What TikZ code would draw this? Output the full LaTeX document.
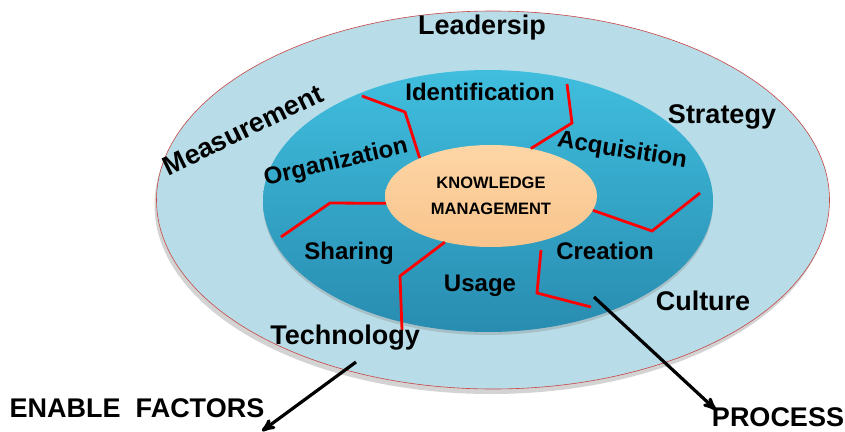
\documentclass[tikz,border=0pt]{standalone}
\usepackage{fontspec}
\setmainfont{Liberation Sans}
\usepackage{tikz}
\usetikzlibrary{shapes}
\usetikzlibrary{arrows}
\usetikzlibrary{shadows}
\definecolor{paleblue}{RGB}{184,221,232}
\definecolor{ringtop}{RGB}{64,190,222}
\definecolor{ringbot}{RGB}{40,140,176}
\definecolor{peachtop}{RGB}{253,214,166}
\definecolor{peachbot}{RGB}{249,196,140}
\definecolor{rimred}{RGB}{200,70,70}
\tikzset{
	ring/.style = {ellipse, inner sep=0pt},
	ring_out/.style = {ring, fill=paleblue, draw=rimred, line width=0.6pt,
		minimum width=673pt, minimum height=378pt,
		drop shadow={shadow xshift=-2pt, shadow yshift=-5pt, opacity=.35}},% anneau exterieur
	ring_in/.style = {ring, top color=ringtop, bottom color=ringbot,
		minimum width=450pt, minimum height=262pt,
		drop shadow={shadow xshift=0pt, shadow yshift=-3pt, opacity=.3}},% anneau du processus
	core/.style = {ring, top color=peachtop, bottom color=peachbot, align=center,
		minimum width=212pt, minimum height=102pt,
		font=\bfseries\fontsize{16.5}{18}\selectfont},% noyau
	lbl_out/.style = {inner sep=0pt, font=\bfseries\fontsize{27}{30}\selectfont},
	lbl_in/.style = {inner sep=0pt, font=\bfseries\fontsize{24}{27}\selectfont},
	divider/.style = {red, line width=2.8pt},
	bigarrow/.style = {->, line width=3.2pt}
}
\begin{document}
\begin{tikzpicture}[x=1pt,y=-1pt,>=stealth']
	\useasboundingbox (0,0) rectangle (845,431);
	% les trois ellipses
	\node [ring_out] (outer) at (493,200) {};
	\node [ring_in] (inner) at (488,201) {};
	\node [core] (km) at (491,196) {KNOWLEDGE\\[8pt]MANAGEMENT};
	% separations entre les etapes
	\draw [divider] (362,96) -- (405,112) -- (km.152);
	\draw [divider] (567,84) -- (572,123) -- (km.50);
	\draw [divider] (700,193) -- (652,231) -- (km.-8);
	\draw [divider] (591,307) -- (537,293) -- (541,250);
	\draw [divider] (402,330) -- (400,276) -- (km.-135);
	\draw [divider] (281,237) -- (330,203) -- (km.-176);
	% etapes du processus
	\node [lbl_in] (ident) at (480,92) {Identification};
	\node [lbl_in, rotate=-9] (acq) at (622,151) {Acquisition};
	\node [lbl_in] (creat) at (605,251) {Creation};
	\node [lbl_in] (usage) at (480,286) {Usage};
	\node [lbl_in] (share) at (349,253) {Sharing};
	\node [lbl_in, rotate=13] (orga) at (336,163) {Organization};
	% facteurs
	\node [lbl_out] (lead) at (482,28) {Leadersip};
	\node [lbl_out] (strat) at (722,117) {Strategy};
	\node [lbl_out] (cult) at (703,301) {Culture};
	\node [lbl_out] (techno) at (345,338) {Technology};
	\node [lbl_out, rotate=26] (meas) at (243,130) {Measurement};
	% legendes
	\node [lbl_out] (enable) at (137,408) {ENABLE\ \ FACTORS};
	\node [lbl_out] (process) at (778,417) {PROCESS};
	\coordinate (e0) at (356,362);
	\coordinate (e1) at (262,431);
	\coordinate (p0) at (594,297);
	\coordinate (p1) at (716,410);
	\draw [bigarrow] (e0) -- (e1);
	\draw [bigarrow] (p0) -- (p1);
\end{tikzpicture}
\end{document}
